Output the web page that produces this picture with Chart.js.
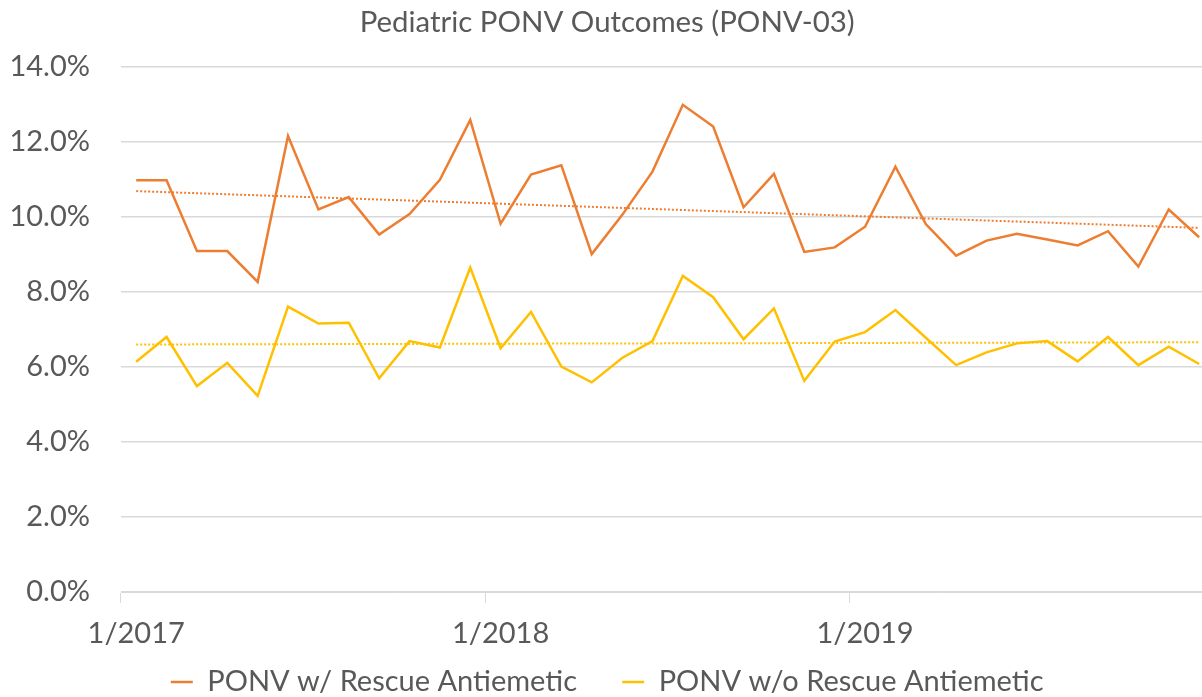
<!DOCTYPE html>
<html>
<head>
<meta charset="utf-8">
<title>Pediatric PONV Outcomes</title>
<script src="https://cdn.jsdelivr.net/npm/chart.js@4.4.1/dist/chart.umd.min.js"></script>
<style>
  html, body { margin: 0; padding: 0; background: #fff; overflow: hidden; }
  #wrap { width: 1230px; height: 697px; }
</style>
</head>
<body>
<div id="wrap"><canvas id="ponvChart" width="1230" height="697"></canvas></div>
<script>
// monthly categories, 1/2017 .. 12/2019
const months = [
  '1/2017', '2/2017', '3/2017', '4/2017', '5/2017', '6/2017', '7/2017', '8/2017', '9/2017', '10/2017', '11/2017', '12/2017',
  '1/2018', '2/2018', '3/2018', '4/2018', '5/2018', '6/2018', '7/2018', '8/2018', '9/2018', '10/2018', '11/2018', '12/2018',
  '1/2019', '2/2019', '3/2019', '4/2019', '5/2019', '6/2019', '7/2019', '8/2019', '9/2019', '10/2019', '11/2019', '12/2019'
];

// % of patients
const withRescue = [
  10.98, 10.98, 9.09, 9.09, 8.27, 12.16, 10.20, 10.53, 9.53, 10.08, 10.99, 12.59,
  9.82, 11.13, 11.38, 9.01, 10.05, 11.21, 12.99, 12.41, 10.26, 11.15, 9.07, 9.19,
  9.74, 11.34, 9.81, 8.97, 9.37, 9.55, 9.40, 9.24, 9.62, 8.68, 10.20, 9.46
];
const withoutRescue = [
  6.14, 6.80, 5.49, 6.11, 5.23, 7.61, 7.16, 7.18, 5.70, 6.69, 6.52, 8.65,
  6.50, 7.47, 6.01, 5.59, 6.24, 6.69, 8.43, 7.86, 6.74, 7.56, 5.63, 6.68,
  6.93, 7.52, 6.78, 6.05, 6.39, 6.63, 6.69, 6.15, 6.80, 6.05, 6.54, 6.08
];

// linear trendlines (start / end values)
const withRescueTrend = [10.69, 9.71];
const withoutRescueTrend = [6.60, 6.66];

const yTicks = [0, 2, 4, 6, 8, 10, 12, 14];

const ORANGE = '#ED7D31';
const YELLOW = '#FFC000';
const TEXT = '#595959';
const GRID = '#d9d9d9';
const FONT = 'Lato, "Open Sans", sans-serif';

function trendPoints(ends) {
  return [
    { x: months[0], y: ends[0] },
    { x: months[months.length - 1], y: ends[1] }
  ];
}

const ctx = document.getElementById('ponvChart').getContext('2d');

new Chart(ctx, {
  type: 'line',
  data: {
    labels: months,
    datasets: [
      {
        label: 'PONV w/ Rescue Antiemetic',
        data: withRescue,
        borderColor: ORANGE,
        backgroundColor: ORANGE,
        borderWidth: 2.5,
        pointRadius: 0,
        pointStyle: 'line',
        tension: 0
      },
      {
        label: 'PONV w/o Rescue Antiemetic',
        data: withoutRescue,
        borderColor: YELLOW,
        backgroundColor: YELLOW,
        borderWidth: 2.5,
        pointRadius: 0,
        pointStyle: 'line',
        tension: 0
      },
      {
        label: 'trend 1',
        data: trendPoints(withRescueTrend),
        borderColor: ORANGE,
        borderWidth: 2,
        borderDash: [2, 2],
        pointRadius: 0
      },
      {
        label: 'trend 2',
        data: trendPoints(withoutRescueTrend),
        borderColor: YELLOW,
        borderWidth: 2,
        borderDash: [2, 2],
        pointRadius: 0
      }
    ]
  },
  options: {
    responsive: false,
    animation: false,
    layout: { padding: { left: 0, right: 15.7, top: 0, bottom: 0 } },
    plugins: {
      title: {
        display: true,
        text: 'Pediatric PONV Outcomes (PONV-03)',
        color: TEXT,
        font: { family: FONT, size: 29.4, weight: 'normal', lineHeight: 1.2 },
        padding: { top: 4.4, bottom: 27.3 }
      },
      legend: {
        position: 'bottom',
        maxHeight: 45,
        labels: {
          color: TEXT,
          font: { family: FONT, size: 29 },
          usePointStyle: true,
          pointStyleWidth: 22,
          padding: 15.5,
          filter: item => item.datasetIndex < 2,
          generateLabels: chart => {
            const items = Chart.defaults.plugins.legend.labels.generateLabels(chart);
            // a little extra room after the first entry
            items[0].text += '    ';
            return items;
          }
        }
      },
      tooltip: { enabled: false }
    },
    scales: {
      x: {
        type: 'category',
        offset: true,
        afterFit: scale => { scale.height = 60; },
        border: { display: true, color: GRID, width: 1 },
        grid: {
          offset: true,
          drawOnChartArea: false,
          drawTicks: true,
          tickLength: 11,
          color: c => (c.index % 12 === 0 ? GRID : 'rgba(0,0,0,0)')
        },
        ticks: {
          autoSkip: false,
          maxRotation: 0,
          padding: 13.6,
          color: TEXT,
          font: { family: FONT, size: 29, lineHeight: 1.2 },
          callback: function(value, index) {
            return index % 12 === 0 ? months[index] : '';
          }
        }
      },
      y: {
        min: 0,
        max: 14,
        afterFit: scale => { scale.width = 121; },
        afterBuildTicks: scale => { scale.ticks = yTicks.map(v => ({ value: v })); },
        border: { display: false },
        grid: { color: GRID, lineWidth: 1.5, drawTicks: false },
        ticks: {
          padding: 31,
          color: TEXT,
          font: { family: FONT, size: 29 },
          callback: v => v.toFixed(1) + '%'
        }
      }
    }
  }
});
</script>
</body>
</html>
